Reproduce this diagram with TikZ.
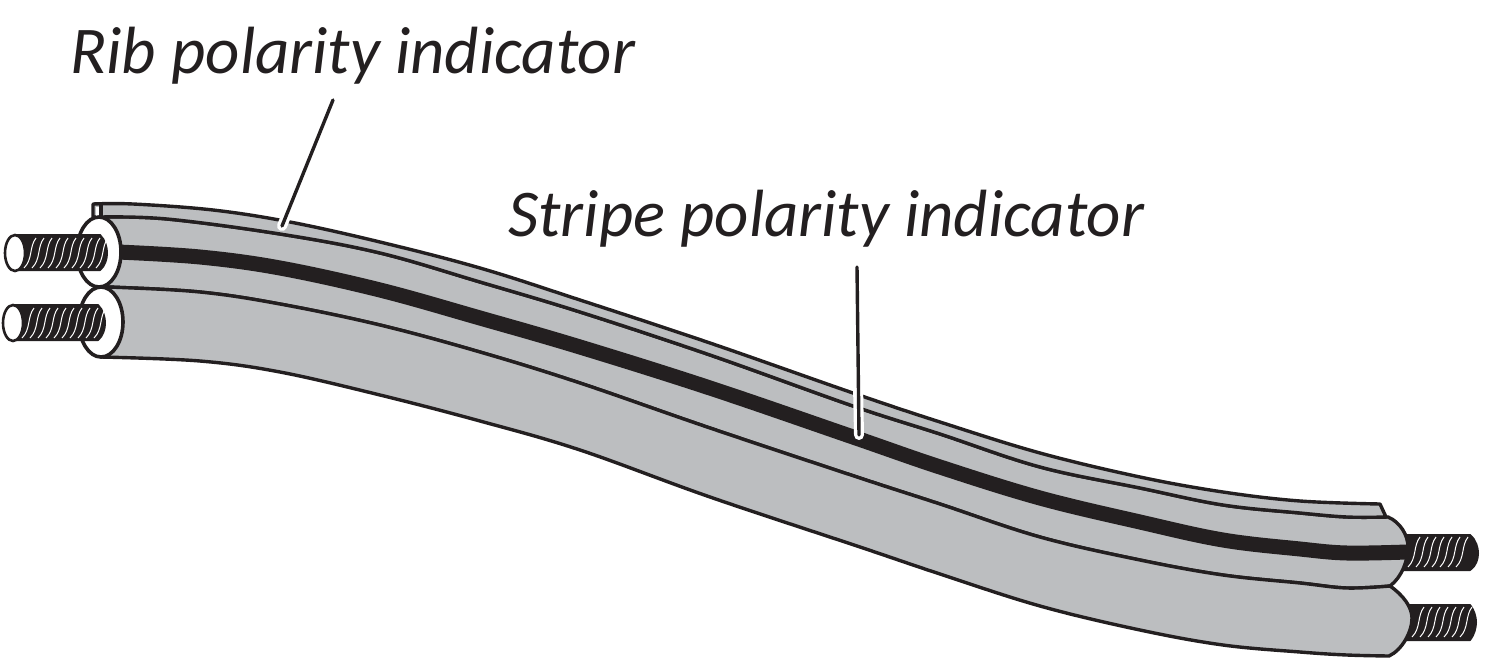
\documentclass[tikz,border=0pt]{standalone}
\usepackage{fontspec}
\setmainfont{Carlito}
\definecolor{cablegray}{HTML}{BCBEC0}
\definecolor{cableblack}{HTML}{231F20}
% white strands on a conductor: first two positions, last position, middle height
\newcommand{\wirestrands}[3]{
    \foreach \xpos in {#1,...,#2}
        \draw[strand] (\xpos,#3+15) .. controls (\xpos+9,#3+6) and (\xpos+5,#3-6) .. (\xpos+12,#3-15);
}
\begin{document}
\begin{tikzpicture}[x=0.5pt,y=-0.5pt,
    cableline/.style={draw=cableblack,line width=1.7pt,line join=round},
    strand/.style={white,line width=0.5pt},
    wirebody/.style={fill=cableblack,draw=cableblack,line width=1pt,line join=round},
    sleeve/.style={fill=white,draw=cableblack,line width=1.8pt},
    leader/.style={draw=cableblack,line width=1.7pt,line cap=round},
    halo/.style={draw=white,line width=5pt,line cap=round},
    calloutlabel/.style={anchor=base west,inner sep=0pt,font=\fontsize{33.4}{40}\selectfont\itshape,text=cableblack}]
    \useasboundingbox (0,0) rectangle (1488,670);
    % wires at the far end sit behind the cable
    \path[wirebody] (1400,535) -- (1470,535) .. controls (1476,540) and (1478,548) .. (1478,553) .. controls (1478,559) and (1476,566) .. (1470,570) -- (1400,570) -- cycle;
    \wirestrands{1408,1416}{1462}{552}
    \path[wirebody] (1400,605) -- (1470,605) .. controls (1474,610) and (1476,617) .. (1476,622) .. controls (1476,628) and (1474,635) .. (1470,640) -- (1400,640) -- cycle;
    \wirestrands{1412,1420}{1460}{622}
    % cable body
    \path[cableline,fill=cablegray] plot[smooth,tension=0.6] coordinates {(101,217) (167,219) (280,234) (380,253) (480,282) (580,312) (710,355) (853,406) (940,434) (1040,467) (1140,488) (1223,505) (1300,513) (1347,517) (1388,517)}
        .. controls (1400,522) and (1408,535) .. (1408,547) .. controls (1408,560) and (1402,577) .. (1390,586)
        -- plot[smooth,tension=0.6] coordinates {(1390,586) (1347,588) (1300,583) (1223,575) (1140,560) (1040,537) (940,504) (860,478) (710,428) (580,383) (480,352) (380,325) (280,304) (200,292) (110,287) (101,287)}
        -- cycle;
    \path[cableline,fill=cablegray] plot[smooth,tension=0.6] coordinates {(101,287) (110,287) (200,292) (280,304) (380,325) (480,352) (580,383) (710,428) (860,478) (940,504) (1040,537) (1140,560) (1223,575) (1300,583) (1347,588) (1390,586)}
        .. controls (1403,595) and (1412,607) .. (1412,618) .. controls (1412,632) and (1402,650) .. (1389,656)
        -- plot[smooth,tension=0.6] coordinates {(1389,656) (1347,655) (1300,652) (1223,645) (1140,630) (1040,606) (940,574) (860,547) (710,497) (580,450) (480,421) (380,395) (280,372) (200,361) (101,357)}
        -- cycle;
    % rib along the top
    \path[cableline,fill=cablegray] (93,217) -- (93,204) -- plot[smooth,tension=0.6] coordinates {(93,204) (133,204) (213,210) (290,222) (380,242) (480,268) (580,300) (710,343) (853,393) (940,422) (1040,453) (1140,477) (1223,492) (1300,501) (1380,504)}
        -- (1386,517) -- plot[smooth,tension=0.6] coordinates {(1386,517) (1347,517) (1300,513) (1223,505) (1140,488) (1040,467) (940,434) (853,406) (710,355) (580,312) (480,282) (380,253) (280,234) (167,219) (101,217)}
        -- cycle;
    \fill[white] (96,207) rectangle (100,216);
    \draw[cableline] (101,205) -- (101,217);
    % stripe
    \draw[cableblack,line width=7.5pt] plot[smooth,tension=0.6] coordinates {(118,252) (200,257) (280,268) (380,290) (480,318) (580,347) (710,388) (853,437) (940,467) (1040,498) (1140,522) (1223,540) (1300,549) (1347,553) (1407,552)};
    % sleeves and near wires
    \path[sleeve] (99,252) ellipse [x radius=22,y radius=35];
    \path[sleeve] (101,322) ellipse [x radius=22,y radius=35];
    \path[wirebody] (15,235) -- (100,235) .. controls (105,240) and (107,247) .. (107,253) .. controls (107,259) and (105,266) .. (100,270) -- (15,270) -- cycle;
    \wirestrands{24,32}{96}{253}
    \path[sleeve,line width=1.3pt] (15,253) ellipse [x radius=10,y radius=18];
    \path[wirebody] (13,305) -- (98,305) .. controls (103,310) and (105,317) .. (105,323) .. controls (105,329) and (103,336) .. (98,340) -- (13,340) -- cycle;
    \wirestrands{22,30}{94}{323}
    \path[sleeve,line width=1.3pt] (13,323) ellipse [x radius=10,y radius=18];
    % labels
    \node[calloutlabel] (riblabel) at (70,73) {Rib polarity indicator};
    \node[calloutlabel] (stripelabel) at (508,236) {Stripe polarity indicator};
    \coordinate (ribstart) at (333,100);
    \coordinate (ribtip) at (282,226);
    \coordinate (ribgap) at (291,204);
    \coordinate (stripestart) at (857,267);
    \coordinate (stripetip) at (859,435);
    \coordinate (stripegap) at (858,385);
    \draw[halo] (ribtip) -- (ribgap);
    \draw[halo] (stripetip) -- (stripegap);
    \draw[leader] (ribstart) -- (ribtip);
    \draw[leader] (stripestart) -- (stripetip);
\end{tikzpicture}
\end{document}
